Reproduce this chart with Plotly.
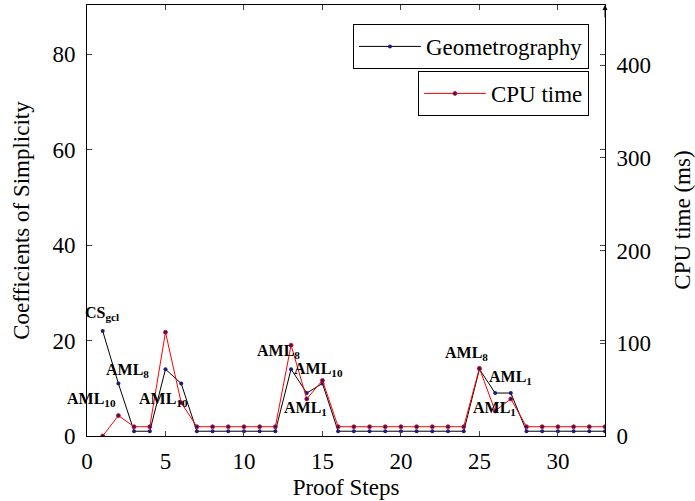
import plotly.graph_objects as go

# ---------------- data ----------------
steps = list(range(1, 34))
geometrography = [22, 11, 1, 1, 14, 11,
                  1, 1, 1, 1, 1, 1,
                  14, 9, 11,
                  1, 1, 1, 1, 1, 1, 1, 1, 1,
                  14, 9, 9,
                  1, 1, 1, 1, 1, 1]
cpu_time_ms = [0, 22, 10, 10, 112, 36,
               10, 10, 10, 10, 10, 10,
               98, 40, 60,
               10, 10, 10, 10, 10, 10, 10, 10, 10,
               73, 27, 40,
               10, 10, 10, 10, 10, 10]

x_ticks = [0, 5, 10, 15, 20, 25, 30]
left_ticks = [0, 20, 40, 60, 80]
right_ticks = [0, 100, 200, 300, 400]

labels = ["CS<sub>gcl</sub>", "AML<sub>8</sub>", "AML<sub>10</sub>", "AML<sub>10</sub>",
          "AML<sub>8</sub>", "AML<sub>10</sub>", "AML<sub>1</sub>",
          "AML<sub>8</sub>", "AML<sub>1</sub>", "AML<sub>1</sub>"]
label_x = [0.96, 2.58, 0.3, 4.86, 12.19, 14.75, 13.94, 24.18, 26.97, 25.97]
label_y = [25.7, 13.8, 7.75, 7.75, 17.7, 13.9, 5.7, 17.3, 12.25, 5.7]

FONT = "Liberation Serif"
MARK = "#1c1c7a"

fig = go.Figure()
fig.add_trace(go.Scatter(
    x=steps, y=geometrography, name="Geometrography", mode="lines+markers",
    line=dict(color="black", width=1),
    marker=dict(color=MARK, size=4),
    legend="legend", yaxis="y"))
fig.add_trace(go.Scatter(
    x=steps, y=cpu_time_ms, name="CPU time", mode="lines+markers",
    line=dict(color="red", width=1),
    marker=dict(color=MARK, size=4, line=dict(color="red", width=0.8)),
    legend="legend2", yaxis="y2"))

anns = []
for t, xx, yy in zip(labels, label_x, label_y):
    anns.append(dict(x=xx, y=yy, xref="x", yref="y", text="<b>" + t + "</b>",
                     showarrow=False, xanchor="center", yanchor="middle",
                     font=dict(family=FONT, size=16, color="black")))
# right axis title, placed as in the reference
anns.append(dict(x=1.149, y=0.5, xref="paper", yref="paper", text="CPU time (ms)",
                 showarrow=False, textangle=-90, xanchor="center", yanchor="middle",
                 font=dict(family=FONT, size=23, color="black")))
# arrow tip on the right axis
anns.append(dict(x=1, y=1, xref="paper", yref="paper", text="", showarrow=True,
                 ax=0, ay=14, arrowhead=2, arrowsize=1, arrowwidth=1,
                 arrowcolor="black"))

fig.update_layout(
    width=695, height=501,
    margin=dict(l=87, r=90, t=5, b=65, autoexpand=False),
    paper_bgcolor="white", plot_bgcolor="white",
    font=dict(family=FONT, size=23, color="black"),
    showlegend=True,
    xaxis=dict(range=[0, 33], tickvals=x_ticks, ticks="inside", ticklen=5,
               showline=True, linecolor="black", linewidth=1, mirror="ticks",
               showgrid=False, zeroline=False, tickcolor="#444",
               ticklabelstandoff=4, automargin=False,
               title=dict(text="Proof Steps", standoff=6,
                          font=dict(family=FONT, size=23))),
    yaxis=dict(range=[0, 90.3], tickvals=left_ticks, ticks="inside", ticklen=5,
               showline=True, linecolor="black", linewidth=1, mirror="ticks",
               showgrid=False, zeroline=False, tickcolor="#444",
               ticklabelstandoff=6, automargin=False,
               title=dict(text="Coefficients of Simplicity", standoff=16,
                          font=dict(family=FONT, size=23))),
    yaxis2=dict(range=[0, 465], tickvals=right_ticks, ticks="inside", ticklen=5,
                overlaying="y", side="right", showline=True, linecolor="black",
                linewidth=1, showgrid=False, zeroline=False, tickcolor="#444",
                ticklabelstandoff=6, automargin=False),
    legend=dict(x=0.969, y=0.956, xanchor="right", yanchor="top",
                bordercolor="black", borderwidth=1, bgcolor="white",
                itemwidth=62,
                font=dict(family=FONT, size=23)),
    legend2=dict(x=0.969, y=0.847, xanchor="right", yanchor="top",
                 bordercolor="black", borderwidth=1, bgcolor="white",
                 itemwidth=62,
                 font=dict(family=FONT, size=23)),
    annotations=anns,
)

fig.write_html("out.html", config={"displayModeBar": False},
               post_script="document.body.style.margin='0';document.body.style.padding='0';")
